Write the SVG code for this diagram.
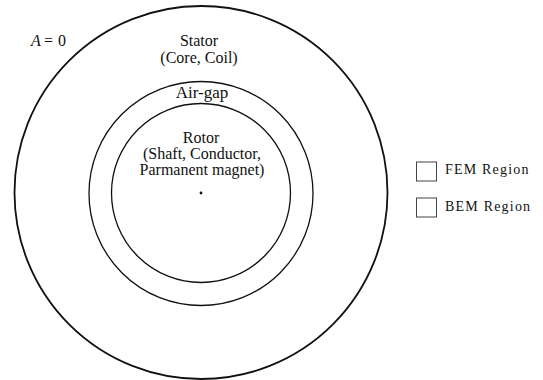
<svg xmlns="http://www.w3.org/2000/svg" width="543" height="380" viewBox="0 0 543 380">
  <style>
    .ring { fill: none; stroke: #111; }
    .lbl { font-family: "Liberation Serif", "Times New Roman", serif; fill: #111; text-anchor: middle; }
    .leg { font-family: "Liberation Serif", "Times New Roman", serif; fill: #111; font-size: 14px; letter-spacing: 1.2px; }
    .box { fill: #fff; stroke: #444; stroke-width: 1; }
  </style>
  <rect width="543" height="380" fill="#fff"/>

  <!-- Stator: outer boundary where A = 0 -->
  <g id="stator">
    <circle class="ring" cx="201" cy="192.5" r="186.5" stroke-width="1.8"/>
    <text class="lbl" x="199" y="46" font-size="16">Stator</text>
    <text class="lbl" x="199" y="63" font-size="16">(Core, Coil)</text>
  </g>

  <!-- Boundary condition label -->
  <g id="boundary">
    <text font-family="Liberation Serif, Times New Roman, serif" font-size="16" fill="#111" y="46">
      <tspan x="31" font-style="italic">A</tspan><tspan x="44">=</tspan><tspan x="58">0</tspan>
    </text>
  </g>

  <!-- Air-gap ring -->
  <g id="airgap">
    <circle class="ring" cx="201" cy="193.5" r="112" stroke-width="1.3"/>
    <text class="lbl" x="202" y="98" font-size="17">Air-gap</text>
  </g>

  <!-- Rotor -->
  <g id="rotor">
    <circle class="ring" cx="201" cy="193" r="89.5" stroke-width="1.3"/>
    <text class="lbl" x="201" y="143" font-size="16">Rotor</text>
    <text class="lbl" x="202" y="159" font-size="16">(Shaft, Conductor,</text>
    <text class="lbl" x="202" y="175" font-size="16">Parmanent magnet)</text>
    <circle cx="201" cy="193" r="1.4" fill="#111"/>
  </g>

  <!-- Legend -->
  <g id="legend-fem">
    <rect class="box" x="416.5" y="162" width="20" height="19"/>
    <text class="leg" x="445" y="174">FEM Region</text>
  </g>
  <g id="legend-bem">
    <rect class="box" x="416.5" y="198" width="20" height="19"/>
    <text class="leg" x="445" y="211">BEM Region</text>
  </g>

  <g id="connectors"/>
</svg>
